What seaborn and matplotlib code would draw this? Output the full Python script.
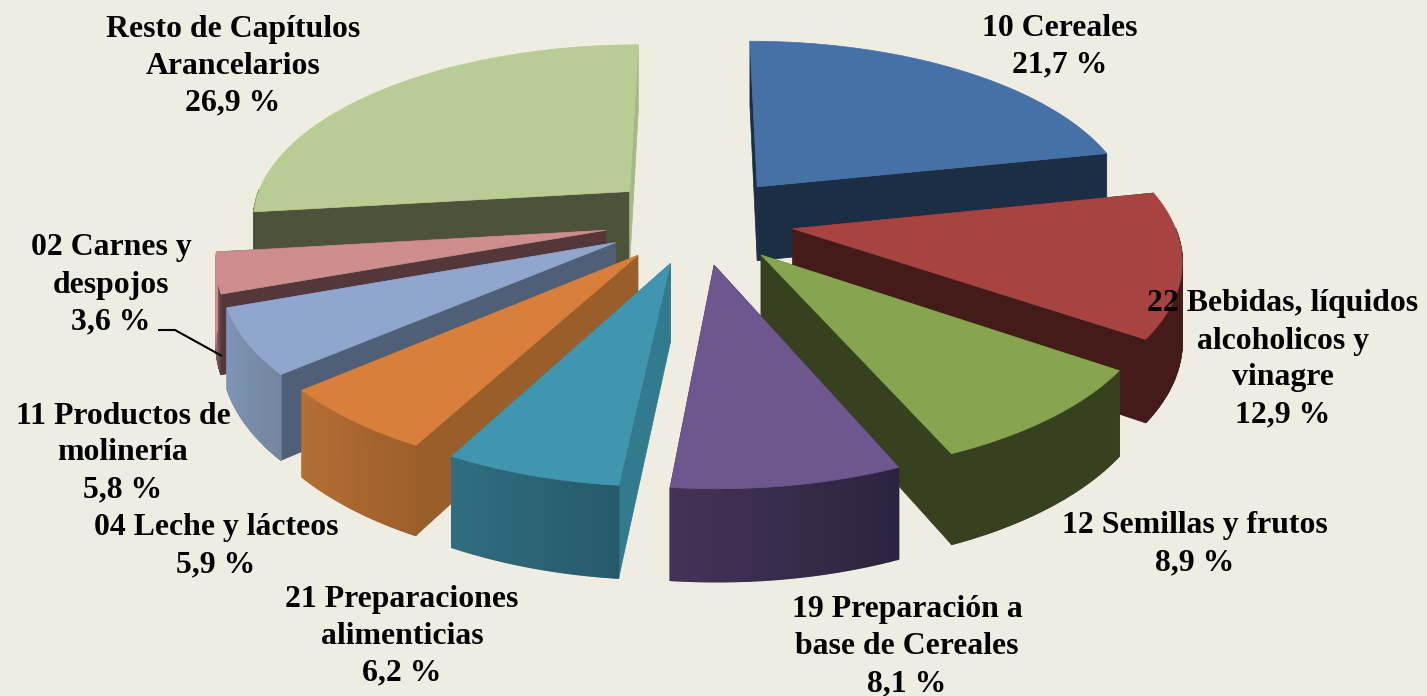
import numpy as np
import matplotlib
matplotlib.use("Agg")
import matplotlib.pyplot as plt
from matplotlib.patches import Polygon
import seaborn as sns

categories = ["10 Cereales", "22 Bebidas, líquidos\nalcoholicos y\nvinagre", "12 Semillas y frutos",
              "19 Preparación a\nbase de Cereales", "21 Preparaciones\nalimenticias", "04 Leche y lácteos",
              "11 Productos de\nmolinería", "02 Carnes y\ndespojos", "Resto de Capítulos\nArancelarios"]
values = [21.7, 12.9, 8.9, 8.1, 6.2, 5.9, 5.8, 3.6, 26.9]
value_labels = ["21,7 %", "12,9 %", "8,9 %", "8,1 %", "6,2 %", "5,9 %", "5,8 %", "3,6 %", "26,9 %"]
label_xy = [(1060, 28), (1283, 304), (1195, 526), (907, 610), (402, 599), (216, 528), (123, 416), (111, 248), (233, 29)]
top_colors = ["#4571A6", "#A74442", "#87A44E", "#6E568E", "#3F96AE", "#D8803B", "#90A6CD", "#CE8E8D", "#B8CD93"]
cut_start = ["#1B2E46", "#451B19", "#37401F", "#3F2F52", "#327B8E", "#9A5E2A", "#505F78", "#533739", "#4C533A"]
cut_end = ["#1B2E46", "#451B19", "#37401F", "#3F2F52", "#327B8E", "#9A5E2A", "#505F78", "#533739", "#A5B886"]
wall_left = ["#1B2E46", "#451B19", "#37401F", "#433356", "#2F6E80", "#B56F33", "#7F95B8", "#CE8E8D", "#4C533A"]
wall_right = ["#1B2E46", "#451B19", "#37401F", "#2C2340", "#265A6B", "#9E5F2B", "#74869F", "#533739", "#4C533A"]
draw_order = [8, 0, 1, 7, 6, 5, 2, 4, 3]
background = "#EFEDE2"

CX, CY, BX, AY, P = 699, 220, 380, 176, 0.147
EXPLODE, DEPTH = 0.25, 76

sns.set_theme(style="white")
plt.rcParams["font.family"] = ["Liberation Serif", "DejaVu Serif"]

fig = plt.figure(figsize=(14.27, 6.96), dpi=100, facecolor=background)
ax = fig.add_axes([0, 0, 1, 1])
ax.set_xlim(0, 1427)
ax.set_ylim(696, 0)
ax.axis("off")


def project(u, v, z=0.0):
    s = 1 / (1 - P * v)
    return np.column_stack([CX + BX * u * s, CY + AY * v * s + DEPTH * z * s])


fractions = np.array(values) / sum(values)
edges = np.concatenate([[0], np.cumsum(fractions)]) * 2 * np.pi

for i in draw_order:
    a0, a1 = edges[i], edges[i + 1]
    mid = (a0 + a1) / 2
    ou, ov = EXPLODE * np.sin(mid), -EXPLODE * np.cos(mid)
    th = np.linspace(a0, a1, 80)
    u = ou + np.sin(th)
    v = ov - np.cos(th)
    top_arc = project(u, v)
    low_arc = project(u, v, 1)
    apex = project(np.array([ou]), np.array([ov]))
    apex_low = project(np.array([ou]), np.array([ov]), 1)
    for arc_t, arc_l, col in ((top_arc[0], low_arc[0], cut_start[i]), (top_arc[-1], low_arc[-1], cut_end[i])):
        ax.add_patch(Polygon(np.vstack([apex, arc_t, arc_l, apex_low]), closed=True,
                             fc=col, ec=col, lw=0.5))
    # along the front of the pie the angle runs from screen right to screen left
    shades = sns.blend_palette([wall_right[i], wall_left[i]], len(th) - 1)
    for k in range(len(th) - 1):
        tm = (th[k] + th[k + 1]) / 2
        if -np.cos(tm) > 0:  # front-facing segments only
            ax.add_patch(Polygon(np.vstack([top_arc[k], top_arc[k + 1], low_arc[k + 1], low_arc[k]]),
                                 closed=True, fc=shades[k], ec=shades[k], lw=1.0))
    ax.add_patch(Polygon(np.vstack([apex, top_arc]), closed=True, fc=top_colors[i], ec=top_colors[i], lw=0.5))

ax.plot([158, 175, 222], [330, 330, 356], color="black", lw=1.5, solid_capstyle="butt")

for name, val, (x, y) in zip(categories, value_labels, label_xy):
    lines = (name + "\n" + val).split("\n")
    for j, line in enumerate(lines):
        ax.text(x, y + j * 37, line, ha="center", va="center", fontsize=22.9,
                fontweight="bold", color="black")

fig.savefig("out.png", dpi=100, facecolor=background)
